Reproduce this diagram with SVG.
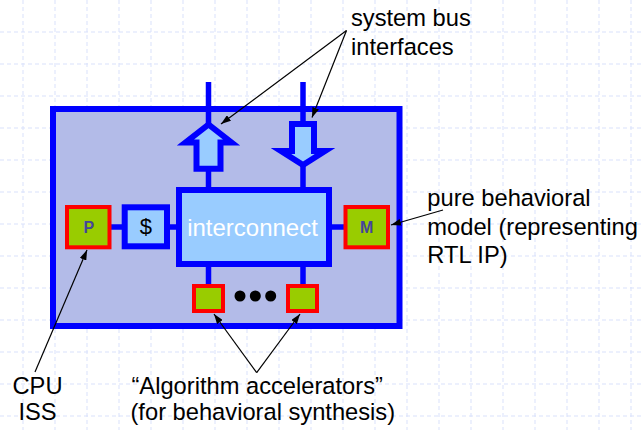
<svg xmlns="http://www.w3.org/2000/svg" width="643" height="430" viewBox="0 0 643 430">
<defs>
<style>
.grid{stroke:#d9e1fb;stroke-width:1;stroke-dasharray:4 3;fill:none}
.blue{stroke:#0000ff;stroke-width:6;stroke-linejoin:miter;stroke-miterlimit:10}
.bus{stroke:#0000ff;stroke-width:5.5;fill:none}
.lb{fill:#99ccff}
.ip{fill:#99cc00;stroke:#ff0000;stroke-width:4}
.ann{stroke:#000;stroke-width:1.2;fill:none}
.lbl{font-family:"Liberation Sans",Arial,sans-serif;font-size:23.7px;fill:#000}
.ic{font-family:"Liberation Sans",Arial,sans-serif;font-size:24px;fill:#fff}
.ipt{font-family:"Liberation Sans",Arial,sans-serif;font-size:16px;font-weight:bold;fill:#45459a;text-anchor:middle}
</style>
<marker id="ah" markerUnits="userSpaceOnUse" viewBox="0 0 10 7" refX="10" refY="3.5" markerWidth="10" markerHeight="7" orient="auto">
<path d="M0,0 L10,3.5 L0,7 z" fill="#000"/>
</marker>
</defs>
<rect width="643" height="430" fill="#fff"/>
<g id="grid" class="grid">
<path d="M23,0V430M55,0V430M87,0V430M119,0V430M151,0V430M183,0V430M215,0V430M247,0V430M279,0V430M311,0V430M343,0V430M375,0V430M407,0V430M439,0V430M471,0V430M503,0V430M535,0V430M567,0V430M599,0V430M631,0V430"/>
<path d="M0,32H643M0,64H643M0,96H643M0,128H643M0,160H643M0,192H643M0,224H643M0,256H643M0,288H643M0,320H643M0,352H643M0,384H643M0,416H643"/>
</g>
<g id="system">
<rect x="53" y="109" width="346.5" height="217" fill="#b3bbe8" class="blue"/>
</g>
<g id="connectors">
<line class="bus" x1="208.5" y1="82" x2="208.5" y2="190"/>
<line class="bus" x1="303" y1="82" x2="303" y2="190"/>
<line class="bus" x1="109" y1="227" x2="125" y2="227"/>
<line class="bus" x1="167" y1="227" x2="179" y2="227"/>
<line class="bus" x1="329" y1="227" x2="345.5" y2="227"/>
<line class="bus" x1="208.5" y1="264" x2="208.5" y2="286"/>
<line class="bus" x1="303" y1="264" x2="303" y2="286"/>
</g>
<g id="bus-out">
<polygon class="blue lb" points="208.5,124.5 185.5,142.5 196.5,142.5 196.5,168.7 220.5,168.7 220.5,142.5 231.5,142.5"/>
</g>
<g id="bus-in">
<polygon class="blue lb" points="292,124 314,124 314,151 325,151 303,165 281,151 292,151"/>
</g>
<g id="interconnect">
<rect class="blue lb" x="179" y="190" width="150" height="74"/>
<text class="ic" x="252.5" y="236" text-anchor="middle">interconnect</text>
</g>
<g id="cache">
<rect class="blue lb" x="124.7" y="207.3" width="42.3" height="39"/>
<text x="145.8" y="234" text-anchor="middle" font-family="Liberation Sans, Arial, sans-serif" font-size="22" fill="#000">$</text>
</g>
<g id="cpu">
<rect class="ip" x="67" y="207" width="42.5" height="40.3"/>
<text class="ipt" x="88.8" y="232.5">P</text>
</g>
<g id="model">
<rect class="ip" x="345.5" y="207" width="42.5" height="40.3"/>
<text class="ipt" x="366.7" y="232.5">M</text>
</g>
<g id="acc1">
<rect class="ip" x="194" y="286" width="29" height="25"/>
</g>
<g id="dots">
<circle cx="240" cy="296" r="5.5" fill="#000"/>
<circle cx="255.3" cy="296" r="5.5" fill="#000"/>
<circle cx="270.7" cy="296" r="5.5" fill="#000"/>
</g>
<g id="acc2">
<rect class="ip" x="288" y="286" width="29" height="25"/>
</g>
<g id="annotations">
<line class="ann" x1="346.5" y1="30.5" x2="221" y2="124" marker-end="url(#ah)"/>
<line class="ann" x1="346.5" y1="30.5" x2="312" y2="117.5" marker-end="url(#ah)"/>
<line class="ann" x1="443" y1="210" x2="391" y2="225" marker-end="url(#ah)"/>
<line class="ann" x1="35" y1="372" x2="87" y2="250" marker-end="url(#ah)"/>
<line class="ann" x1="256.7" y1="372.7" x2="214" y2="314" marker-end="url(#ah)"/>
<line class="ann" x1="256.7" y1="372.7" x2="300" y2="314" marker-end="url(#ah)"/>
</g>
<g id="labels">
<text class="lbl" x="351" y="26">system bus</text>
<text class="lbl" x="351" y="54.5">interfaces</text>
<text class="lbl" x="427.3" y="206">pure behavioral</text>
<text class="lbl" x="427.3" y="234.7">model (representing</text>
<text class="lbl" x="427.3" y="263.4">RTL IP)</text>
<text class="lbl" x="37.5" y="394" text-anchor="middle">CPU</text>
<text class="lbl" x="37.5" y="420" text-anchor="middle">ISS</text>
<text class="lbl" x="257.2" y="394" text-anchor="middle">“Algorithm accelerators”</text>
<text class="lbl" x="262.8" y="420" text-anchor="middle">(for behavioral synthesis)</text>
</g>
</svg>
